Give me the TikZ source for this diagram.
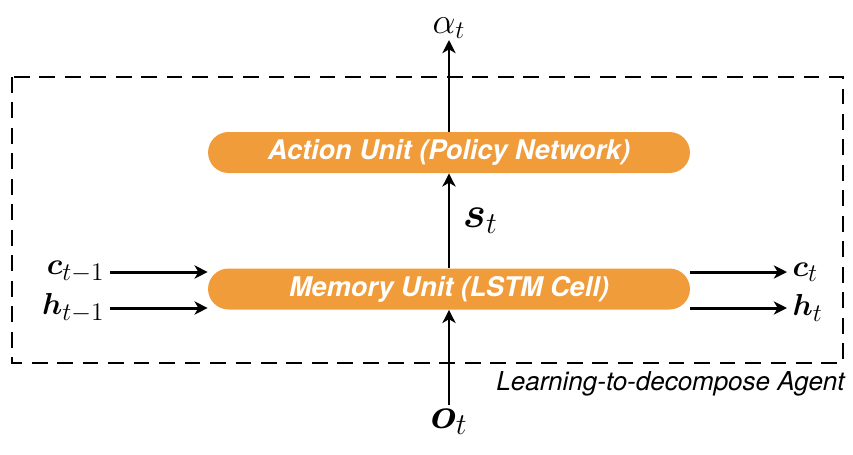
\documentclass[tikz,border=0pt]{standalone}
\usepackage{amsmath,amssymb}
\usepackage{fontspec}
\setsansfont{TeX Gyre Heros}
\usetikzlibrary{positioning,arrows.meta}
\definecolor{unitorange}{HTML}{F19C3A}

\begin{document}
\begin{tikzpicture}[
  x=0.02cm, y=-0.02cm,
  unit/.style={fill=unitorange, draw=none, rounded corners=0.41cm, minimum width=9.64cm, minimum height=0.82cm, text=white, font=\fontsize{15.4}{18}\sffamily\bfseries\itshape, inner sep=0pt},
  var/.style={font=\fontsize{19}{23}\selectfont, inner sep=3pt},
  bigvar/.style={font=\fontsize{23}{27}\selectfont, inner sep=2pt},
  arr/.style={-{Stealth[length=7.5pt, width=7.5pt, inset=2.2pt]}, line width=1.7pt},
  agentbox/.style={line width=1.5pt, dash pattern=on 9pt off 5.5pt}]
\useasboundingbox (0,0) rectangle (853,454);
\draw[agentbox] (12,77) rectangle (843,363);
\node[font=\fontsize{14.8}{17}\sffamily\itshape, anchor=north east, inner sep=0pt] (tag) at (845,371) {Learning-to-decompose Agent};
\node[unit] (act) at (449,152.5) {Action Unit (Policy Network)};
\node[unit] (mem) at (449,289) {Memory Unit (LSTM Cell)};
\node[bigvar, font=\fontsize{21}{25}\selectfont, anchor=south, inner sep=0.5pt] (alpha) at (449,40) {$\alpha_t$};
\node[bigvar, anchor=north] (obs) at (449,405) {$\boldsymbol{o}_t$};
\node[var, anchor=east] (cin) at (110,272) {$\boldsymbol{c}_{t-1}$};
\node[var, anchor=east] (hin) at (110,308) {$\boldsymbol{h}_{t-1}$};
\node[var, anchor=west] (cout) at (787,272) {$\boldsymbol{c}_t$};
\node[var, anchor=west] (hout) at (787,308) {$\boldsymbol{h}_t$};
\draw[arr] (obs) -- (mem);
\draw[arr] (mem) -- node[bigvar, right=5pt] (st) {$\boldsymbol{s}_t$} (act);
\draw[arr] (act) -- (alpha);
\draw[arr] (cin) -- (cin -| mem.west);
\draw[arr] (hin) -- (hin -| mem.west);
\draw[arr] (cout -| mem.east) -- (cout);
\draw[arr] (hout -| mem.east) -- (hout);
\end{tikzpicture}
\end{document}
